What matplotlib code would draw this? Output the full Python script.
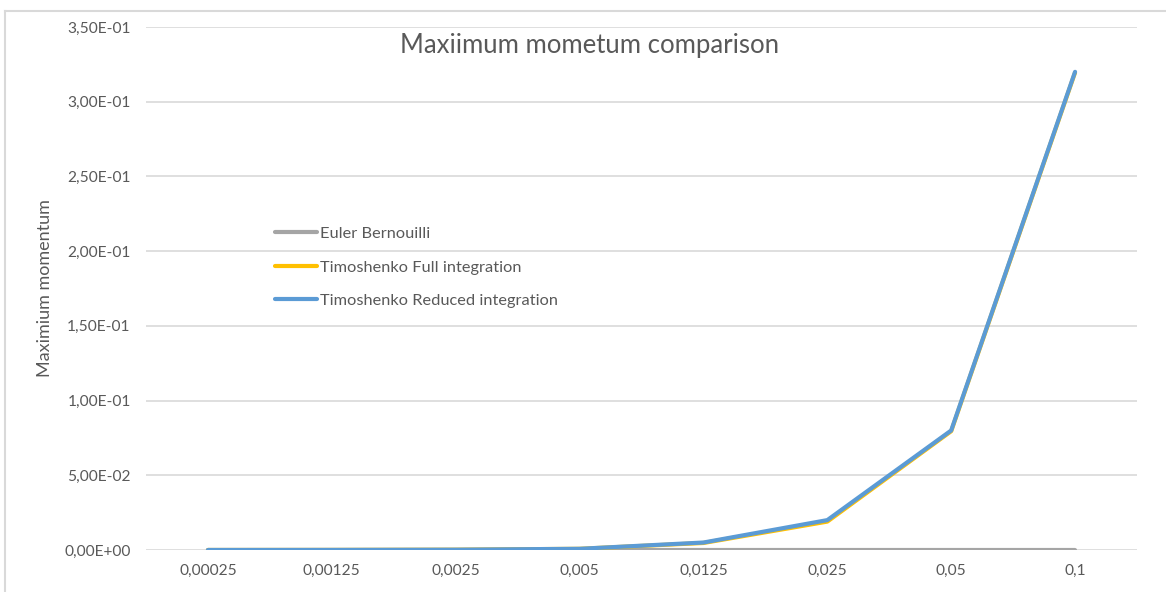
import matplotlib
matplotlib.use("Agg")
import matplotlib.pyplot as plt
from matplotlib.lines import Line2D
from matplotlib.ticker import FuncFormatter

plt.rcParams['font.family'] = ['Lato', 'DejaVu Sans']

# data
thickness = ["0,00025", "0,00125", "0,0025", "0,005", "0,0125", "0,025", "0,05", "0,1"]
euler = [0.0, 0.0, 0.0, 0.0, 0.0, 0.0, 0.0, 0.0]
timo_full = [0.0, 0.00005, 0.0002, 0.0008, 0.0047, 0.019, 0.0795, 0.3195]
timo_reduced = [0.0, 0.00005, 0.0002, 0.0008, 0.005, 0.02, 0.08, 0.32]

TEXT = '#595959'
GRID = '#D9D9D9'

W, H = 1166, 592
fig = plt.figure(figsize=(W / 100, H / 100), dpi=100)
ax = fig.add_axes([146 / W, 1 - 550 / H, (1137 - 146) / W, (550 - 27) / H])

x = list(range(len(thickness)))
ax.plot(x, euler, color='#A5A5A5', lw=3.0, solid_capstyle='round', label='Euler Bernouilli', zorder=3)
ax.plot(x, timo_full, color='#FFC000', lw=3.0, solid_capstyle='round', label='Timoshenko Full integration', zorder=4)
ax.plot(x, timo_reduced, color='#5B9BD5', lw=3.0, solid_capstyle='round', label='Timoshenko Reduced integration', zorder=5)

ax.set_xlim(-0.5, len(thickness) - 0.5)
ax.set_ylim(0, 0.35)
ax.set_yticks([i * 0.05 for i in range(8)])
ax.yaxis.set_major_formatter(FuncFormatter(lambda v, p: '{:.2E}'.format(v).replace('.', ',')))
ax.set_xticks(x)
ax.set_xticklabels(thickness)
ax.grid(axis='y', color=GRID, lw=1.2, zorder=0)
ax.tick_params(length=0, colors=TEXT, labelsize=11.2)
ax.tick_params(axis='x', pad=10)
ax.tick_params(axis='y', pad=11)
for s in ax.spines.values():
    s.set_visible(False)

ax.set_ylabel('Maximium momentum', color=TEXT, fontsize=13)
ax.yaxis.set_label_coords(-(146 - 53) / (1137 - 146), 0.5)

fig.text(590 / W, 1 - 45 / H, 'Maxiimum mometum comparison', color=TEXT,
         fontsize=18.5, ha='center', va='center')

leg = ax.legend(loc='upper left', bbox_to_anchor=(260 / W, 1 - 212 / H),
                bbox_transform=fig.transFigure, frameon=False, fontsize=11.8,
                handlelength=2.6, handletextpad=0.15, labelspacing=1.15,
                labelcolor=TEXT)

# chart border (top and left visible in reference)
fig.add_artist(Line2D([5 / W, 1], [1 - 11 / H, 1 - 11 / H], color=GRID, lw=1.5,
                      transform=fig.transFigure))
fig.add_artist(Line2D([5 / W, 5 / W], [0, 1 - 11 / H], color=GRID, lw=1.5,
                      transform=fig.transFigure))

fig.savefig('out.png', dpi=100)
